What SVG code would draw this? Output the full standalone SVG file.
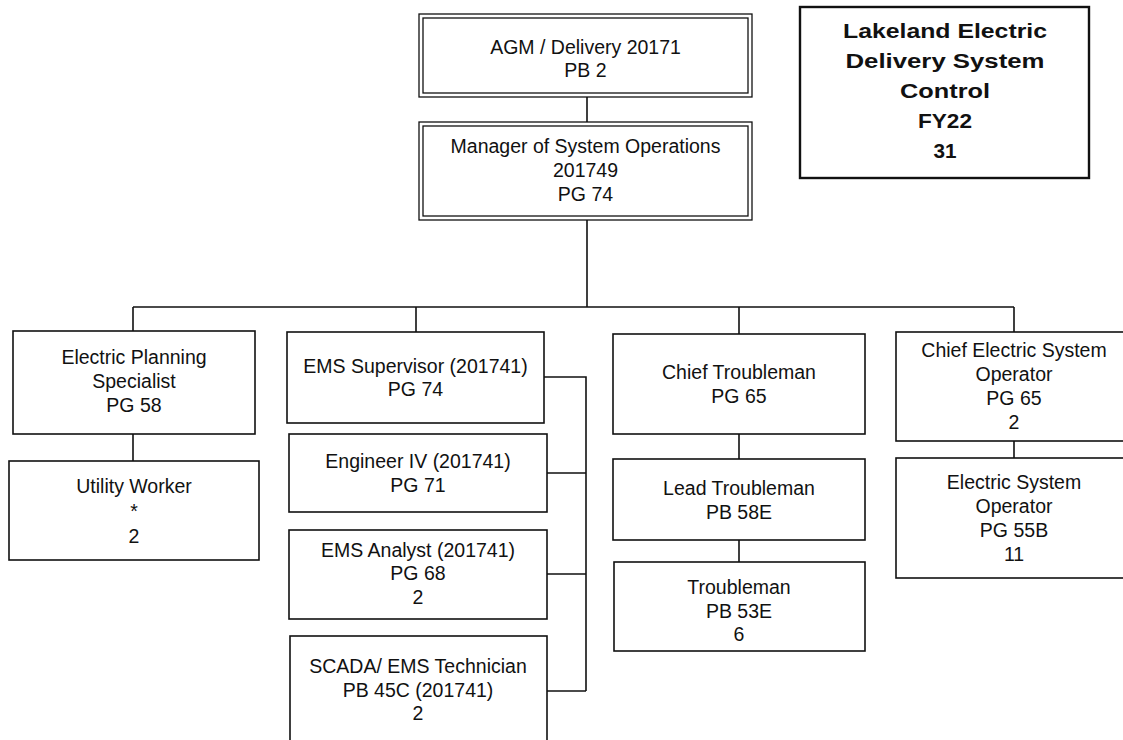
<svg xmlns="http://www.w3.org/2000/svg" width="1123" height="740" viewBox="0 0 1123 740">
<style>
.bx{fill:#fff;stroke:#111;stroke-width:1.6}
.dbl{fill:none;stroke:#111;stroke-width:1.3}
.ttl{fill:#fff;stroke:#111;stroke-width:2.4}
.ln{fill:none;stroke:#111;stroke-width:1.6}
text{font-family:"Liberation Sans",Arial,sans-serif;font-size:19.5px;fill:#111;text-anchor:middle}
.b{font-weight:bold;font-size:20px}
</style>
<rect width="1123" height="740" fill="#fff"/>
<g id="connectors">
<path class="ln" d="M587 97V122M587 220V307M133 307H1014M133 307V331M416 307V332M739 307V334M1014 307V332M133 434V461M739 434V459M739 540V562M1014 441V458M544 377H586V691M547 473H586M547 574H586M547 691H586"/>
</g>
<g id="title">
<rect class="ttl" x="800" y="7" width="289" height="171"/>
<text class="b" x="945" y="37.5" textLength="204" lengthAdjust="spacingAndGlyphs">Lakeland Electric</text>
<text class="b" x="945" y="67.8" textLength="199" lengthAdjust="spacingAndGlyphs">Delivery System</text>
<text class="b" x="945" y="98.2" textLength="90" lengthAdjust="spacingAndGlyphs">Control</text>
<text class="b" x="945" y="128.4" textLength="54" lengthAdjust="spacingAndGlyphs">FY22</text>
<text class="b" x="945" y="158.4" textLength="23" lengthAdjust="spacingAndGlyphs">31</text>
</g>
<g id="agm">
<rect class="dbl" x="419" y="14" width="333" height="83"/>
<rect class="dbl" x="423" y="18" width="325" height="75"/>
<text x="585.5" y="54.3">AGM / Delivery 20171</text>
<text x="585.5" y="77">PB 2</text>
</g>
<g id="manager">
<rect class="dbl" x="419" y="122" width="333" height="98"/>
<rect class="dbl" x="423" y="126" width="325" height="90"/>
<text x="585.5" y="152.7">Manager of System Operations</text>
<text x="585.5" y="176.7">201749</text>
<text x="585.5" y="200.7">PG 74</text>
</g>
<g id="eps">
<rect class="bx" x="13" y="331" width="242" height="103"/>
<text x="134" y="364">Electric Planning</text>
<text x="134" y="387.8">Specialist</text>
<text x="134" y="411.6">PG 58</text>
</g>
<g id="utility">
<rect class="bx" x="9" y="461" width="250" height="99"/>
<text x="134" y="493.3">Utility Worker</text>
<text x="134" y="518">*</text>
<text x="134" y="542.7">2</text>
</g>
<g id="ems-supervisor">
<rect class="bx" x="287" y="332" width="257" height="91"/>
<text x="415.5" y="372.7">EMS Supervisor (201741)</text>
<text x="415.5" y="396.3">PG 74</text>
</g>
<g id="engineer">
<rect class="bx" x="289" y="434" width="258" height="78"/>
<text x="418" y="468.3">Engineer IV (201741)</text>
<text x="418" y="491.8">PG 71</text>
</g>
<g id="ems-analyst">
<rect class="bx" x="289" y="530" width="258" height="89"/>
<text x="418" y="556.7">EMS Analyst (201741)</text>
<text x="418" y="580.3">PG 68</text>
<text x="418" y="604.2">2</text>
</g>
<g id="scada">
<rect class="bx" x="290" y="636" width="257" height="120"/>
<text x="418" y="673.3">SCADA/ EMS Technician</text>
<text x="418" y="696.8">PB 45C (201741)</text>
<text x="418" y="720.3">2</text>
</g>
<g id="chief-troubleman">
<rect class="bx" x="613" y="334" width="252" height="100"/>
<text x="739" y="379">Chief Troubleman</text>
<text x="739" y="403">PG 65</text>
</g>
<g id="lead-troubleman">
<rect class="bx" x="613" y="459" width="252" height="81"/>
<text x="739" y="495">Lead Troubleman</text>
<text x="739" y="518.5">PB 58E</text>
</g>
<g id="troubleman">
<rect class="bx" x="614" y="562" width="251" height="89"/>
<text x="739" y="593.5">Troubleman</text>
<text x="739" y="617.5">PB 53E</text>
<text x="739" y="641.2">6</text>
</g>
<g id="chief-eso">
<rect class="bx" x="896" y="332" width="240" height="109"/>
<text x="1014" y="357">Chief Electric System</text>
<text x="1014" y="381">Operator</text>
<text x="1014" y="405">PG 65</text>
<text x="1014" y="429">2</text>
</g>
<g id="eso">
<rect class="bx" x="896" y="458" width="240" height="120"/>
<text x="1014" y="489">Electric System</text>
<text x="1014" y="513">Operator</text>
<text x="1014" y="537">PG 55B</text>
<text x="1014" y="561">11</text>
</g>
</svg>
